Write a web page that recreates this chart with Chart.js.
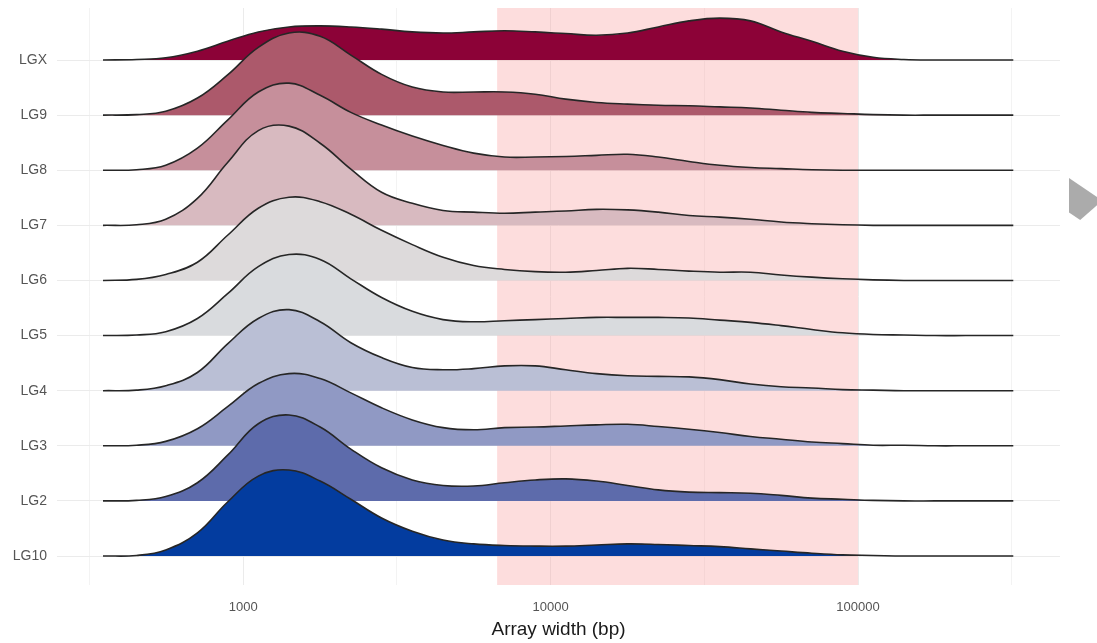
<!DOCTYPE html>
<html>
<head>
<meta charset="utf-8">
<title>Array width per linkage group</title>
<script src="https://cdn.jsdelivr.net/npm/chart.js@4.4.1/dist/chart.umd.min.js"></script>
<style>
  html, body { margin: 0; padding: 0; background: #fff; }
  #wrap { position: relative; width: 1097px; height: 643px; }
  #seta {
    position: absolute; left: 1069px; top: 178px; width: 28px; height: 42px;
    background: #ababab;
    clip-path: polygon(0 0, 100% 45%, 100% 65%, 40% 100%, 0 82%);
  }
</style>
</head>
<body>
<div id="wrap">
  <canvas id="grafico" width="1097" height="643"></canvas>
  <div id="seta"></div>
</div>
<script>
// Eixo x: larguras (bp) onde as densidades foram avaliadas (passo de 0.1 em log10)
const larguras = [350, 450, 560, 710, 890, 1120, 1410, 1780, 2240, 2820, 3550, 4470, 5620, 7080, 8910,
  11200, 14100, 17800, 22400, 28200, 35500, 44700, 56200, 70800, 89100, 112000, 141000, 178000, 224000, 282000, 320000];

// Grupos de ligação, de baixo para cima
const grupos = ['LG10', 'LG2', 'LG3', 'LG4', 'LG5', 'LG6', 'LG7', 'LG8', 'LG9', 'LGX'];

// Densidades (altura em unidades de linha) de cada grupo
const densLG10 = [0, 0.01, 0.11, 0.42, 0.98, 1.45, 1.56, 1.36, 1.03, 0.69, 0.45, 0.29, 0.22, 0.19, 0.18,
  0.18, 0.20, 0.22, 0.21, 0.19, 0.17, 0.13, 0.09, 0.05, 0.02, 0.01, 0, 0, 0, 0, 0];
const densLG2 = [0, 0.01, 0.08, 0.33, 0.83, 1.40, 1.56, 1.34, 0.94, 0.60, 0.38, 0.28, 0.27, 0.33, 0.38,
  0.40, 0.36, 0.28, 0.20, 0.16, 0.15, 0.14, 0.10, 0.05, 0.03, 0.01, 0, 0, 0, 0, 0];
const densLG3 = [0, 0.01, 0.08, 0.31, 0.71, 1.13, 1.31, 1.22, 0.96, 0.69, 0.47, 0.33, 0.29, 0.33, 0.34,
  0.36, 0.38, 0.39, 0.35, 0.30, 0.24, 0.17, 0.12, 0.07, 0.04, 0.01, 0.01, 0, 0, 0, 0];
const densLG4 = [0, 0.01, 0.09, 0.33, 0.85, 1.31, 1.47, 1.25, 0.87, 0.60, 0.42, 0.38, 0.40, 0.45, 0.45,
  0.38, 0.31, 0.27, 0.26, 0.25, 0.20, 0.12, 0.07, 0.05, 0.02, 0.01, 0, 0, 0, 0, 0];
const densLG5 = [0, 0.01, 0.07, 0.31, 0.76, 1.25, 1.47, 1.38, 1.03, 0.69, 0.44, 0.29, 0.25, 0.27, 0.29,
  0.31, 0.33, 0.33, 0.33, 0.32, 0.28, 0.24, 0.18, 0.11, 0.05, 0.02, 0.01, 0, 0, 0, 0];
const densLG6 = [0, 0.02, 0.11, 0.33, 0.82, 1.31, 1.51, 1.43, 1.20, 0.91, 0.65, 0.42, 0.27, 0.20, 0.16,
  0.15, 0.18, 0.22, 0.20, 0.17, 0.15, 0.15, 0.10, 0.06, 0.03, 0.01, 0, 0, 0, 0, 0];
const densLG7 = [0, 0.01, 0.11, 0.49, 1.14, 1.72, 1.80, 1.49, 1.02, 0.60, 0.40, 0.27, 0.24, 0.22, 0.24,
  0.26, 0.29, 0.28, 0.24, 0.18, 0.15, 0.11, 0.06, 0.03, 0.01, 0, 0, 0, 0, 0, 0];
const densLG8 = [0, 0.01, 0.09, 0.40, 0.91, 1.42, 1.58, 1.36, 1.05, 0.82, 0.62, 0.45, 0.31, 0.24, 0.24,
  0.25, 0.27, 0.29, 0.24, 0.16, 0.09, 0.05, 0.03, 0.01, 0, 0, 0, 0, 0, 0, 0];
const densLG9 = [0, 0.01, 0.07, 0.31, 0.73, 1.23, 1.49, 1.43, 1.09, 0.74, 0.51, 0.42, 0.42, 0.42, 0.38,
  0.29, 0.23, 0.20, 0.18, 0.17, 0.15, 0.13, 0.09, 0.05, 0.03, 0.01, 0, 0, 0, 0, 0];
const densLGX = [0, 0.01, 0.04, 0.16, 0.34, 0.51, 0.60, 0.62, 0.60, 0.56, 0.51, 0.49, 0.51, 0.53, 0.51,
  0.48, 0.45, 0.49, 0.60, 0.71, 0.76, 0.71, 0.51, 0.34, 0.16, 0.05, 0.01, 0, 0, 0, 0];

const densidades = [densLG10, densLG2, densLG3, densLG4, densLG5, densLG6, densLG7, densLG8, densLG9, densLGX];

// Cores de preenchimento (azul -> cinza -> vinho)
const coresGrupos = ['#033c9f', '#5d6bab', '#9099c4', '#babfd5', '#d9dbde', '#dddadb', '#d8bac0', '#c68f9b', '#ac596b', '#8c0237'];

// Ticks do eixo x: rótulos só nas potências de 10, linhas fracas nas meias décadas
const ticksX = [316.2, 1000, 3162, 10000, 31623, 100000, 316228];
const rotulosX = ['', '1000', '', '10000', '', '100000', ''];

// Faixa destacada em rosa (bp)
const faixaInicio = 6700;
const faixaFim = 100000;

// Plugin para desenhar a faixa rosa atrás das curvas
const faixaRosa = {
  id: 'faixaRosa',
  beforeDatasetsDraw(chart) {
    const { ctx, chartArea, scales } = chart;
    const x0 = scales.x.getPixelForValue(faixaInicio);
    const x1 = scales.x.getPixelForValue(faixaFim);
    ctx.save();
    ctx.fillStyle = 'rgba(250, 160, 160, 0.36)';
    ctx.fillRect(x0, chartArea.top, x1 - x0, chartArea.bottom - chartArea.top);
    ctx.restore();
  }
};

const datasets = grupos.map((nome, i) => ({
  label: nome,
  data: larguras.map((w, k) => ({ x: w, y: i + densidades[i][k] })),
  backgroundColor: coresGrupos[i],
  borderColor: '#262626',
  borderWidth: 1.6,
  pointRadius: 0,
  tension: 0.4,
  fill: { value: i }
}));

const ctx = document.getElementById('grafico').getContext('2d');

new Chart(ctx, {
  type: 'line',
  data: { datasets: datasets },
  plugins: [faixaRosa],
  options: {
    responsive: false,
    animation: false,
    layout: { padding: { top: 8, right: 37, left: 0, bottom: 0 } },
    plugins: {
      legend: { display: false },
      tooltip: { enabled: false }
    },
    scales: {
      x: {
        type: 'logarithmic',
        min: 248,
        max: 454000,
        afterBuildTicks: (scale) => {
          scale.ticks = ticksX.map(v => ({ value: v }));
        },
        afterFit: (scale) => {
          scale.height = 58;
          scale.paddingLeft = 0;
          scale.paddingRight = 0;
        },
        border: { display: false },
        grid: {
          drawTicks: false,
          color: (c) => (c.tick && rotulosX[c.index] !== '' ? '#ebebeb' : '#f3f3f3'),
          lineWidth: 1
        },
        ticks: {
          autoSkip: false,
          maxRotation: 0,
          padding: 15,
          color: '#555',
          font: { family: 'Liberation Sans, Arial, sans-serif', size: 13 },
          callback: (v, i) => rotulosX[i]
        },
        title: {
          display: true,
          text: 'Array width (bp)',
          color: '#1a1a1a',
          padding: { top: 0, bottom: 2 },
          font: { family: 'Liberation Sans, Arial, sans-serif', size: 19 }
        }
      },
      y: {
        type: 'linear',
        min: -0.526,
        max: 9.944,
        afterBuildTicks: (scale) => {
          scale.ticks = grupos.map((g, i) => ({ value: i }));
        },
        afterFit: (scale) => {
          scale.width = 57;
          scale.paddingTop = 0;
          scale.paddingBottom = 0;
        },
        border: { display: false },
        grid: { drawTicks: false, color: '#ebebeb', lineWidth: 1 },
        ticks: {
          padding: 10,
          color: '#555',
          font: { family: 'Liberation Sans, Arial, sans-serif', size: 14 },
          callback: (v) => grupos[v]
        }
      }
    }
  }
});
</script>
</body>
</html>
